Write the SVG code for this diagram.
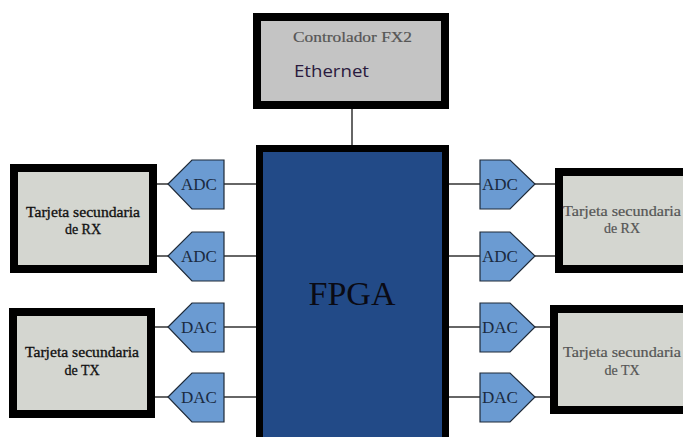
<svg xmlns="http://www.w3.org/2000/svg" width="683" height="437" viewBox="0 0 683 437">
<style>
.box{stroke:#000;stroke-width:8}
.card{fill:#d4d6d0}
.conv{fill:#6b9bd2;stroke:#1f2a38;stroke-width:1.2}
.wire{stroke:#333;stroke-width:1.5;fill:none}
.serif{font-family:"Liberation Serif","DejaVu Serif",serif}
.ct{font-size:14px;fill:#111;stroke:#111;stroke-width:0.3;text-anchor:middle}
.ctr{font-size:14px;fill:#555;stroke:#555;stroke-width:0.2;text-anchor:middle}
.cv{font-size:17px;fill:#1a2a40;text-anchor:middle}
</style>
<rect width="683" height="437" fill="#fff"/>
<g id="connectors">
<line class="wire" x1="352" y1="108" x2="352" y2="146"/>
<line class="wire" x1="157" y1="184" x2="168" y2="184"/>
<line class="wire" x1="224" y1="184" x2="257" y2="184"/>
<line class="wire" x1="157" y1="256" x2="168" y2="256"/>
<line class="wire" x1="224" y1="256" x2="257" y2="256"/>
<line class="wire" x1="155" y1="327" x2="168" y2="327"/>
<line class="wire" x1="224" y1="327" x2="257" y2="327"/>
<line class="wire" x1="155" y1="397" x2="168" y2="397"/>
<line class="wire" x1="224" y1="397" x2="257" y2="397"/>
<line class="wire" x1="449" y1="184" x2="480" y2="184"/>
<line class="wire" x1="535" y1="184" x2="556" y2="184"/>
<line class="wire" x1="449" y1="256" x2="480" y2="256"/>
<line class="wire" x1="535" y1="256" x2="556" y2="256"/>
<line class="wire" x1="449" y1="327" x2="480" y2="327"/>
<line class="wire" x1="535" y1="327" x2="551" y2="327"/>
<line class="wire" x1="449" y1="397" x2="480" y2="397"/>
<line class="wire" x1="535" y1="397" x2="551" y2="397"/>
</g>
<g id="fx2">
<rect class="box" x="257" y="17" width="188" height="88" fill="#c4c4c4"/>
<text class="serif" x="293" y="42" font-size="15" fill="#555" stroke="#555" stroke-width="0.2" textLength="119" lengthAdjust="spacingAndGlyphs">Controlador FX2</text>
<text x="294" y="77" font-family="'Open Sans','Liberation Sans',sans-serif" font-size="17" fill="#2a1a3e" textLength="75" lengthAdjust="spacingAndGlyphs">Ethernet</text>
</g>
<g id="fpga">
<rect x="259.5" y="148.5" width="186" height="300" fill="#224a87" stroke="#000" stroke-width="7"/>
<text class="serif" x="352" y="305" font-size="34" fill="#0a0a14" text-anchor="middle">FPGA</text>
</g>
<g id="rx-left">
<rect class="box card" x="14" y="168" width="139" height="101"/>
<text class="serif ct" x="83" y="217" textLength="114" lengthAdjust="spacingAndGlyphs">Tarjeta secundaria</text>
<text class="serif ct" x="83" y="234">de RX</text>
</g>
<g id="tx-left">
<rect class="box card" x="13" y="312" width="138" height="102"/>
<text class="serif ct" x="82" y="357" textLength="114" lengthAdjust="spacingAndGlyphs">Tarjeta secundaria</text>
<text class="serif ct" x="82" y="375">de TX</text>
</g>
<g id="rx-right">
<rect class="box card" x="559" y="172" width="140" height="97"/>
<text class="serif ctr" x="622" y="216" textLength="118" lengthAdjust="spacingAndGlyphs">Tarjeta secundaria</text>
<text class="serif ctr" x="622" y="233">de RX</text>
</g>
<g id="tx-right">
<rect class="box card" x="554" y="309" width="140" height="101"/>
<text class="serif ctr" x="622" y="357" textLength="118" lengthAdjust="spacingAndGlyphs">Tarjeta secundaria</text>
<text class="serif ctr" x="622" y="375">de TX</text>
</g>
<g id="adc-l1">
<polygon class="conv" points="168,184 192,160 224,160 224,209 192,209"/>
<text class="serif cv" x="199" y="190">ADC</text>
</g>
<g id="adc-l2">
<polygon class="conv" points="168,256 192,232 224,232 224,281 192,281"/>
<text class="serif cv" x="199" y="262">ADC</text>
</g>
<g id="dac-l1">
<polygon class="conv" points="168,327 192,303 224,303 224,352 192,352"/>
<text class="serif cv" x="199" y="333">DAC</text>
</g>
<g id="dac-l2">
<polygon class="conv" points="168,397 192,373 224,373 224,422 192,422"/>
<text class="serif cv" x="199" y="403">DAC</text>
</g>
<g id="adc-r1">
<polygon class="conv" points="480,160 510,160 535,184 510,209 480,209"/>
<text class="serif cv" x="500" y="190">ADC</text>
</g>
<g id="adc-r2">
<polygon class="conv" points="480,232 510,232 535,256 510,281 480,281"/>
<text class="serif cv" x="500" y="262">ADC</text>
</g>
<g id="dac-r1">
<polygon class="conv" points="480,303 510,303 535,327 510,352 480,352"/>
<text class="serif cv" x="500" y="333">DAC</text>
</g>
<g id="dac-r2">
<polygon class="conv" points="480,373 510,373 535,397 510,422 480,422"/>
<text class="serif cv" x="500" y="403">DAC</text>
</g>
</svg>
